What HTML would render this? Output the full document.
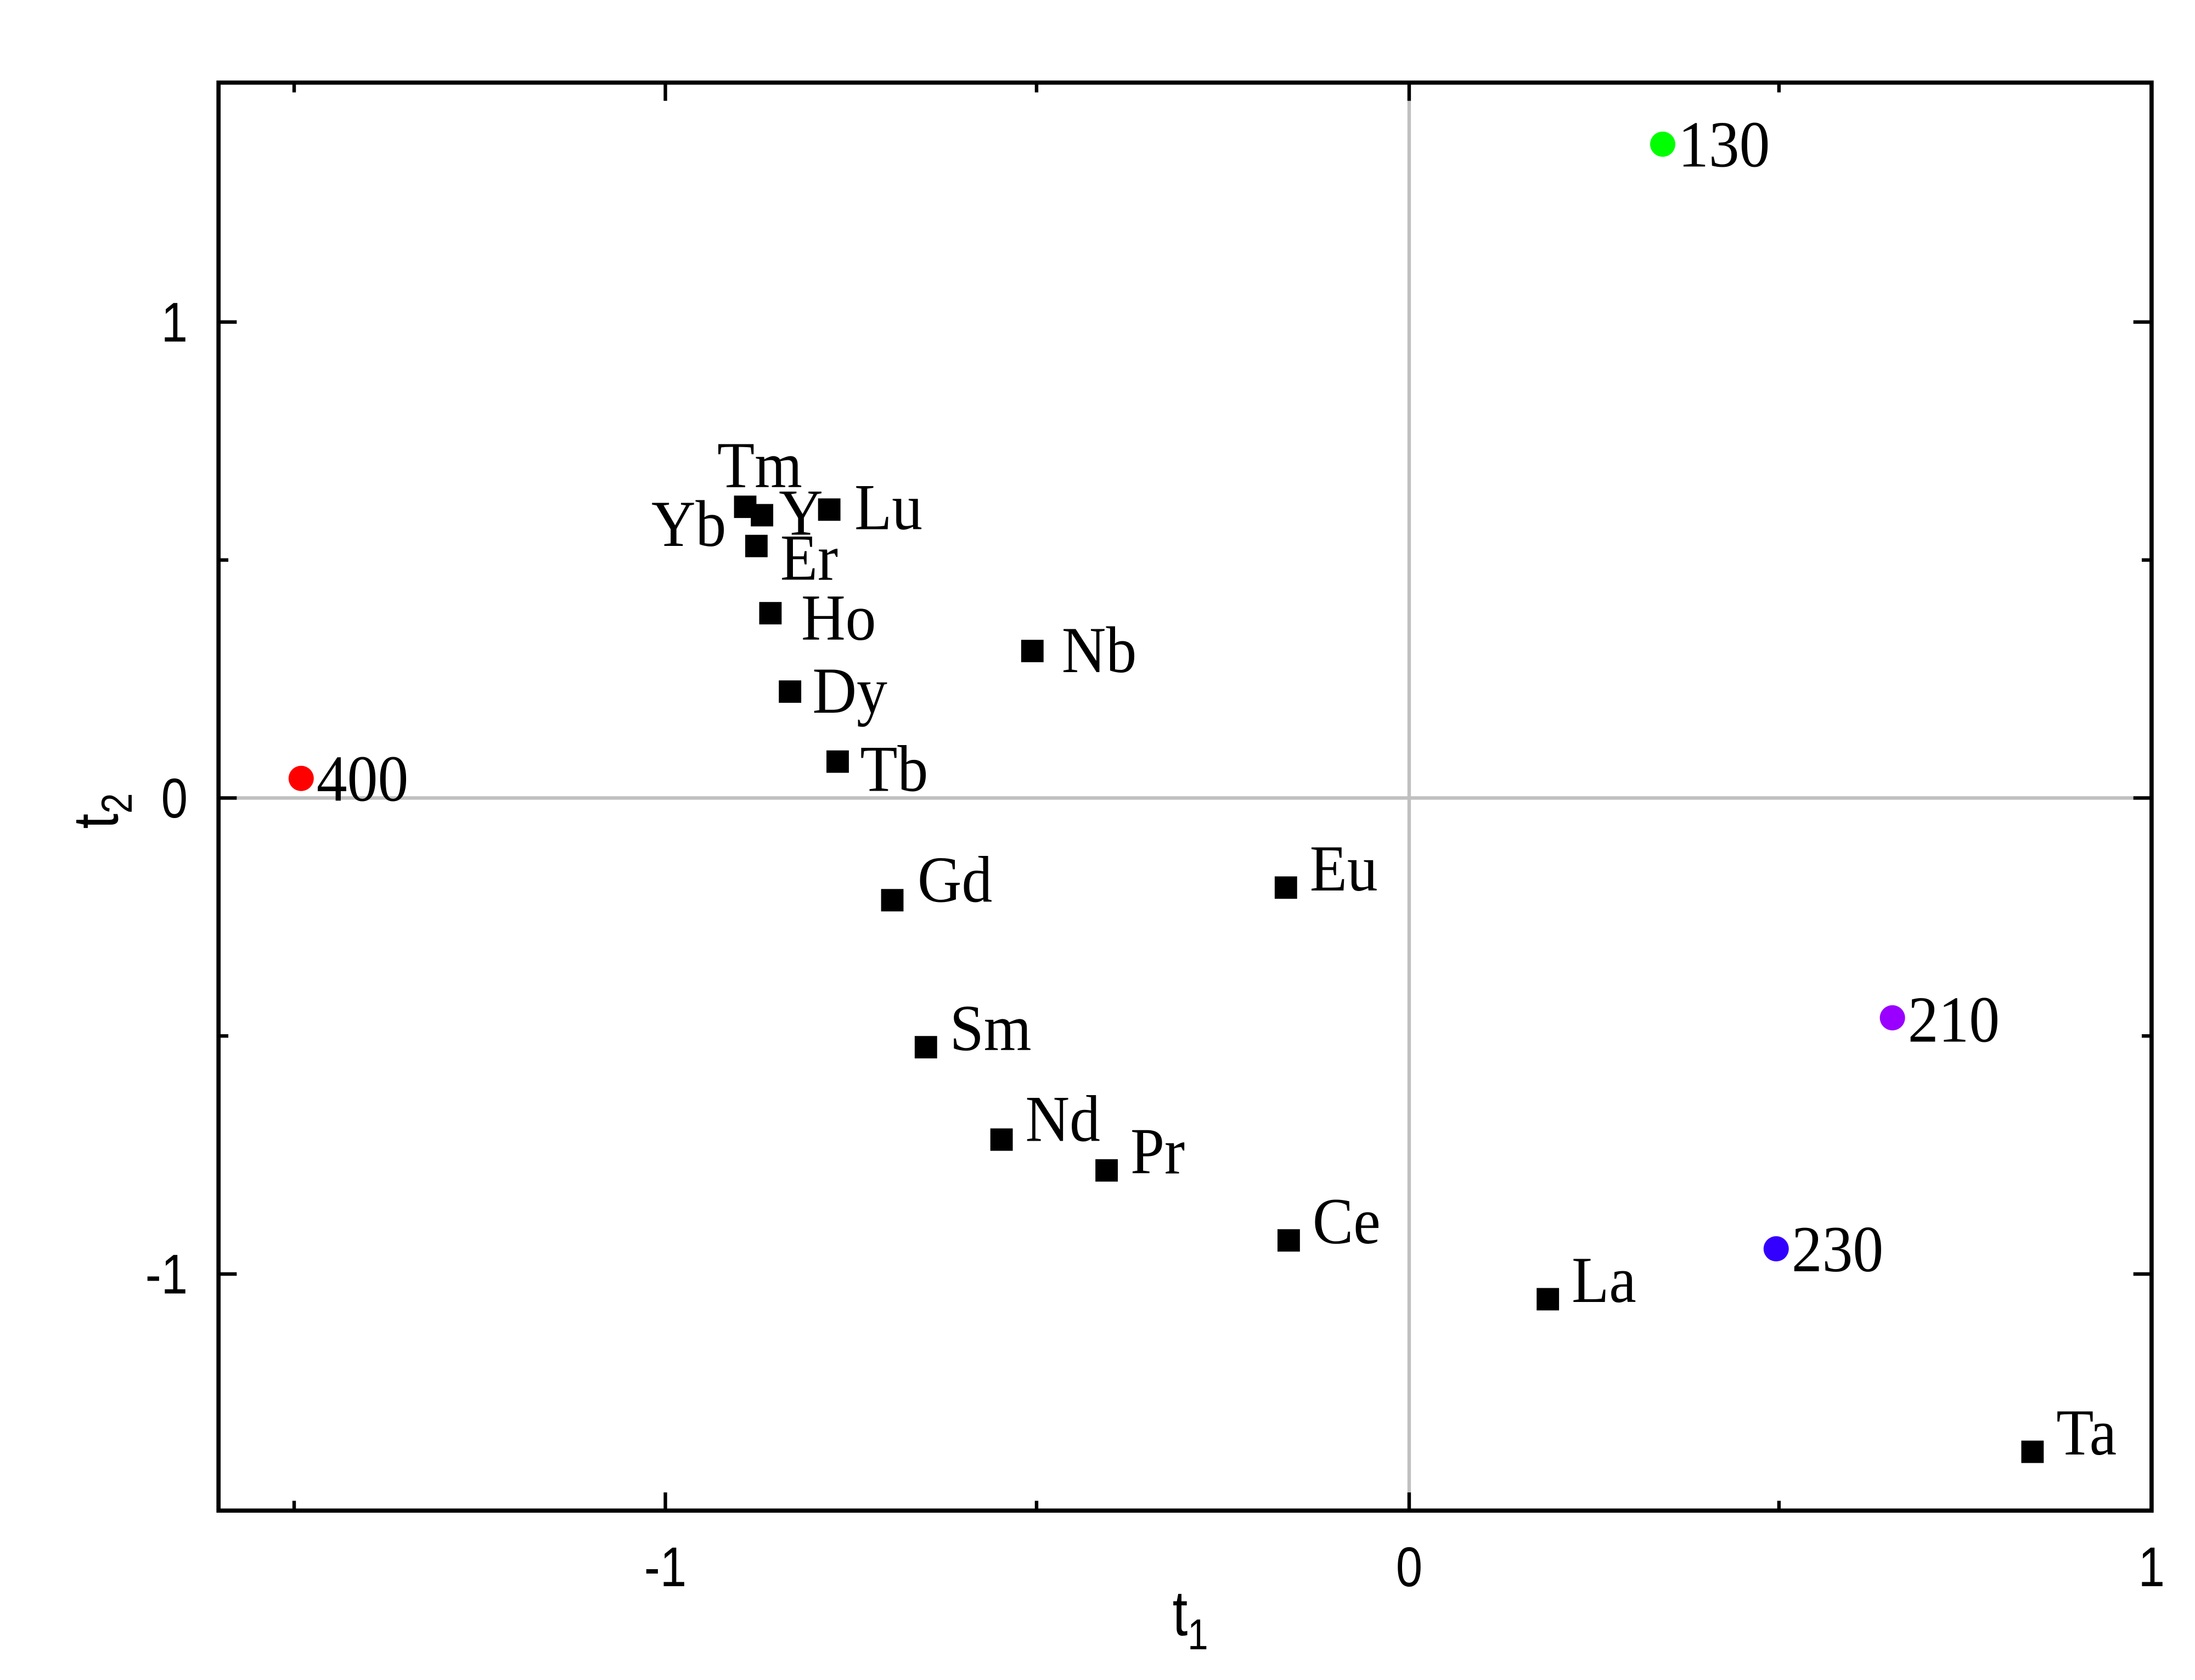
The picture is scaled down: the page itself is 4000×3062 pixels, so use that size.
<!DOCTYPE html>
<html><head><meta charset="utf-8"><style>
html,body{margin:0;padding:0;background:#fff;}
svg{display:block;}
.l{font-family:"Liberation Serif","Noto Serif CJK SC",serif;font-size:47px;fill:#000;}
.t{font-family:"Liberation Sans",sans-serif;font-size:40px;fill:#000;}
</style></head><body>
<svg width="4000" height="3062" viewBox="0 0 1567 1200" preserveAspectRatio="none" xmlns="http://www.w3.org/2000/svg">
<rect width="1567" height="1200" fill="#fff"/>
<line x1="1006" y1="59" x2="1006" y2="1079" stroke="#c0c0c0" stroke-width="2.5"/>
<line x1="156" y1="570" x2="1536" y2="570" stroke="#c0c0c0" stroke-width="2.5"/>
<g stroke="#000" stroke-width="2.5">
<line x1="210" y1="1079" x2="210" y2="1072"/><line x1="475" y1="1079" x2="475" y2="1066"/>
<line x1="740" y1="1079" x2="740" y2="1072"/><line x1="1006" y1="1079" x2="1006" y2="1066"/>
<line x1="1270" y1="1079" x2="1270" y2="1072"/>
<line x1="210" y1="59" x2="210" y2="66"/><line x1="475" y1="59" x2="475" y2="72"/>
<line x1="740" y1="59" x2="740" y2="66"/><line x1="1006" y1="59" x2="1006" y2="72"/>
<line x1="1270" y1="59" x2="1270" y2="66"/>
<line x1="156" y1="230" x2="169" y2="230"/><line x1="156" y1="400" x2="163" y2="400"/>
<line x1="156" y1="570" x2="169" y2="570"/><line x1="156" y1="740" x2="163" y2="740"/>
<line x1="156" y1="910" x2="169" y2="910"/>
<line x1="1536" y1="230" x2="1523" y2="230"/><line x1="1536" y1="400" x2="1529" y2="400"/>
<line x1="1536" y1="570" x2="1523" y2="570"/><line x1="1536" y1="740" x2="1529" y2="740"/>
<line x1="1536" y1="910" x2="1523" y2="910"/>
</g>
<rect x="156" y="59" width="1380" height="1020" fill="none" stroke="#000" stroke-width="3"/>
<g class="t">
<text transform="translate(134,244) scale(0.85,1)" text-anchor="end">1</text>
<text transform="translate(134,584) scale(0.85,1)" text-anchor="end">0</text>
<text transform="translate(134,924) scale(0.85,1)" text-anchor="end">-1</text>
<text transform="translate(475,1133) scale(0.85,1)" text-anchor="middle">-1</text>
<text transform="translate(1006,1133) scale(0.85,1)" text-anchor="middle">0</text>
<text transform="translate(1536,1133) scale(0.85,1)" text-anchor="middle">1</text>
</g>
<text class="t" transform="translate(837,1168) scale(0.85,1)" style="font-size:46px">t<tspan dy="10" style="font-size:31px">1</tspan></text>
<text class="t" transform="translate(84,592) rotate(-90) scale(0.85,1)" style="font-size:46px">t<tspan dy="10" style="font-size:31px">2</tspan></text>
<g fill="#000">
<rect x="524" y="354" width="16" height="16"/>
<rect x="536" y="360" width="16" height="16"/>
<rect x="584" y="356" width="16" height="16"/>
<rect x="532" y="382" width="16" height="16"/>
<rect x="542" y="430" width="16" height="16"/>
<rect x="556" y="486" width="16" height="16"/>
<rect x="590" y="536" width="16" height="16"/>
<rect x="729" y="457" width="16" height="16"/>
<rect x="629" y="635" width="16" height="16"/>
<rect x="910" y="626" width="16" height="16"/>
<rect x="653" y="740" width="16" height="16"/>
<rect x="707" y="806" width="16" height="16"/>
<rect x="782" y="828" width="16" height="16"/>
<rect x="912" y="878" width="16" height="16"/>
<rect x="1097" y="920" width="16" height="16"/>
<rect x="1443" y="1029" width="16" height="16"/>
</g>
<circle cx="215" cy="556" r="9" fill="#ff0000"/>
<circle cx="1187" cy="103" r="9" fill="#00ff00"/>
<circle cx="1351" cy="727" r="9" fill="#9900ff"/>
<circle cx="1268" cy="892" r="9" fill="#3300ff"/>
<g class="l">
<text transform="translate(512,348) scale(0.93,1)">Tm</text>
<text transform="translate(465,390) scale(0.93,1)">Yb</text>
<text transform="translate(556,382) scale(0.93,1)">Y</text>
<text transform="translate(610,378) scale(0.93,1)">Lu</text>
<text transform="translate(557,414) scale(0.93,1)">Er</text>
<text transform="translate(572,457) scale(0.93,1)">Ho</text>
<text transform="translate(758,480) scale(0.93,1)">Nb</text>
<text transform="translate(580,509) scale(0.93,1)">Dy</text>
<text transform="translate(614,565) scale(0.93,1)">Tb</text>
<text transform="translate(226,572) scale(0.93,1)">400</text>
<text transform="translate(1198,119) scale(0.93,1)">130</text>
<text transform="translate(655,644) scale(0.93,1)">Gd</text>
<text transform="translate(935,636) scale(0.93,1)">Eu</text>
<text transform="translate(678,750) scale(0.93,1)">Sm</text>
<text transform="translate(1362,744) scale(0.93,1)">210</text>
<text transform="translate(732,815) scale(0.93,1)">Nd</text>
<text transform="translate(807,838) scale(0.93,1)">Pr</text>
<text transform="translate(937,888) scale(0.93,1)">Ce</text>
<text transform="translate(1279,908) scale(0.93,1)">230</text>
<text transform="translate(1122,930) scale(0.93,1)">La</text>
<text transform="translate(1468,1039) scale(0.93,1)">Ta</text>
</g>
</svg>
</body></html>
